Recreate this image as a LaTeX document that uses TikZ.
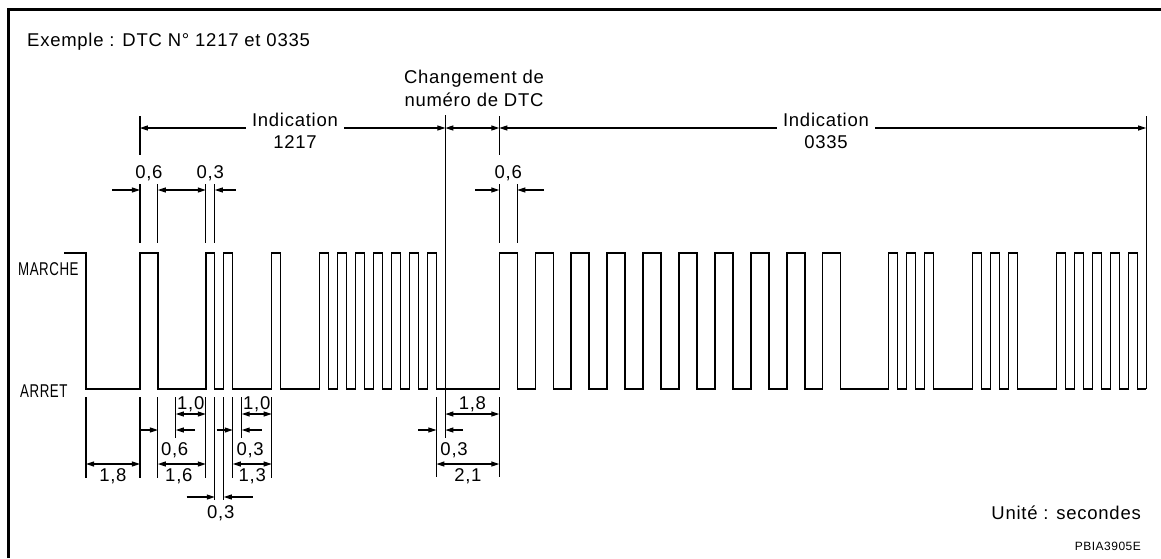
\documentclass[tikz,border=0pt]{standalone}
\usepackage{fontspec}
\usepackage{graphicx}
\setmainfont{Liberation Sans}[LetterSpace=4]
\usetikzlibrary{arrows.meta}

\tikzset{
  signal/.style={line width=1.4pt, line join=miter},
  extline/.style={line width=1.2pt},
  dimline/.style={line width=1.1pt, -{Triangle[length=8pt,width=5pt]}},
  dimboth/.style={line width=1.1pt, {Triangle[length=8pt,width=5pt]}-{Triangle[length=8pt,width=5pt]}},
  lbl/.style={font=\fontsize{18.5}{22}\selectfont, inner sep=0pt, anchor=base},
  gaplbl/.style={lbl, inner xsep=6pt},
}

\begin{document}
\begin{tikzpicture}[x=1pt, y=-1pt]
  \useasboundingbox (0,0) rectangle (1161,558);
  % frame
  \draw[line width=3pt] (8.5,558) -- (8.5,9.5) -- (1161,9.5);

  % texts
  \node[lbl, anchor=base west] (title) at (27,46) {Exemple : DTC N° 1217 et 0335};
  \node[lbl] (chg1) at (474,83) {Changement de};
  \node[lbl] (chg2) at (474,106) {numéro de DTC};
  \node[gaplbl] (ind1) at (295,126) {Indication};
  \node[lbl] (num1) at (295,148) {1217};
  \node[gaplbl] (ind2) at (826,126) {Indication};
  \node[lbl] (num2) at (826,148) {0335};
  \node[lbl, anchor=base west] (on) at (18,275) {\scalebox{0.72}[1]{MARCHE}};
  \node[lbl, anchor=base west] (off) at (20,397) {\scalebox{0.72}[1]{ARRET}};
  \node[lbl, anchor=base east] (unit) at (1141,519) {Unité : secondes};
  \node[lbl, anchor=base east, font=\fontsize{12}{14}\selectfont] (ref) at (1141,550) {PBIA3905E};

  \begin{scope}[xshift=86pt, x=29.95pt]
    % signal
    \draw[signal] (-0.73,253) -- (0,253) -- (0,389)
      foreach \p/\w in {1.8/0.6, 4.0/0.3, 4.6/0.3, 6.2/0.3, 7.8/0.3, 8.4/0.3,
                        9.0/0.3, 9.6/0.3, 10.2/0.3, 10.8/0.3, 11.4/0.3}
        { -- (\p,389) -- (\p,253) -- (\p+\w,253) -- (\p+\w,389) }
      foreach \k in {0,...,9}
        { -- (13.8+1.2*\k,389) -- (13.8+1.2*\k,253) -- (14.4+1.2*\k,253) -- (14.4+1.2*\k,389) }
      foreach \p in {26.8, 27.4, 28.0, 29.6, 30.2, 30.8, 32.4, 33.0, 33.6, 34.2, 34.8}
        { -- (\p,389) -- (\p,253) -- (\p+0.3,253) -- (\p+0.3,389) }
      -- (35.4,389);

    % indication spans
    \coordinate (s1) at (1.8,128);
    \coordinate (c1) at (12.0,128);
    \coordinate (s2) at (13.8,128);
    \coordinate (e2) at (35.4,128);
    \draw[extline] (1.8,116) -- (1.8,155);
    \draw[extline] (12.0,115) -- (12.0,438);
    \draw[extline] (13.8,116) -- (13.8,155);
    \draw[extline] (35.4,116) -- (35.4,389);
    \draw[dimline] (ind1.west |- s1) -- (s1);
    \draw[dimline] (ind1.east |- s1) -- (c1);
    \draw[dimboth] (c1) -- (s2);
    \draw[dimline] (ind2.west |- s1) -- (s2);
    \draw[dimline] (ind2.east |- s1) -- (e2);

    % upper widths
    \foreach \t in {1.8, 2.4, 4.0, 4.3, 13.8, 14.4}
      \draw[extline] (\t,184) -- (\t,243);
    \draw[dimline] (0.87,190) -- (1.8,190);
    \draw[dimboth] (2.4,190) -- (4.0,190);
    \draw[dimline] (5.0,190) -- (4.3,190);
    \draw[dimline] (13.0,190) -- (13.8,190);
    \draw[dimline] (15.3,190) -- (14.4,190);
    \node[lbl] (hi1) at (2.1,178) {0,6};
    \node[lbl] (hi2) at (4.15,178) {0,3};
    \node[lbl] (hi3) at (14.1,178) {0,6};

    % lower widths
    \foreach \t/\y in {0/478, 1.8/478, 2.4/478, 3.0/438, 4.0/478, 4.3/500, 4.6/500,
                       4.9/478, 5.2/438, 6.2/478, 11.7/477, 13.8/477}
      \draw[extline] (\t,397) -- (\t,\y);
    \draw[dimboth] (3.0,414) -- (4.0,414);
    \draw[dimboth] (5.2,414) -- (6.2,414);
    \draw[dimboth] (12.0,414) -- (13.8,414);
    \node[lbl] (lo1) at (3.5,409) {1,0};
    \node[lbl] (lo2) at (5.7,409) {1,0};
    \node[lbl] (lo3) at (12.9,409) {1,8};
    \draw[dimline] (1.84,430) -- (2.4,430);
    \draw[dimline] (3.64,430) -- (3.0,430);
    \draw[dimline] (4.36,430) -- (4.9,430);
    \draw[dimline] (5.87,430) -- (5.2,430);
    \draw[dimline] (11.09,430) -- (11.7,430);
    \draw[dimline] (12.59,430) -- (12.0,430);
    \node[lbl] (lo4) at (2.96,455) {0,6};
    \node[lbl] (lo5) at (5.48,455) {0,3};
    \node[lbl] (lo6) at (12.29,455) {0,3};
    \draw[dimboth] (0,464) -- (1.8,464);
    \draw[dimboth] (2.4,464) -- (4.0,464);
    \draw[dimboth] (4.9,464) -- (6.2,464);
    \draw[dimboth] (11.7,464) -- (13.8,464);
    \node[lbl] (lo7) at (0.9,481) {1,8};
    \node[lbl] (lo8) at (3.1,481) {1,6};
    \node[lbl] (lo9) at (5.55,481) {1,3};
    \node[lbl] (lo10) at (12.75,481) {2,1};
    \draw[dimline] (3.36,497) -- (4.3,497);
    \draw[dimline] (5.57,497) -- (4.6,497);
    \node[lbl] (lo11) at (4.5,518) {0,3};
  \end{scope}
\end{tikzpicture}
\end{document}
